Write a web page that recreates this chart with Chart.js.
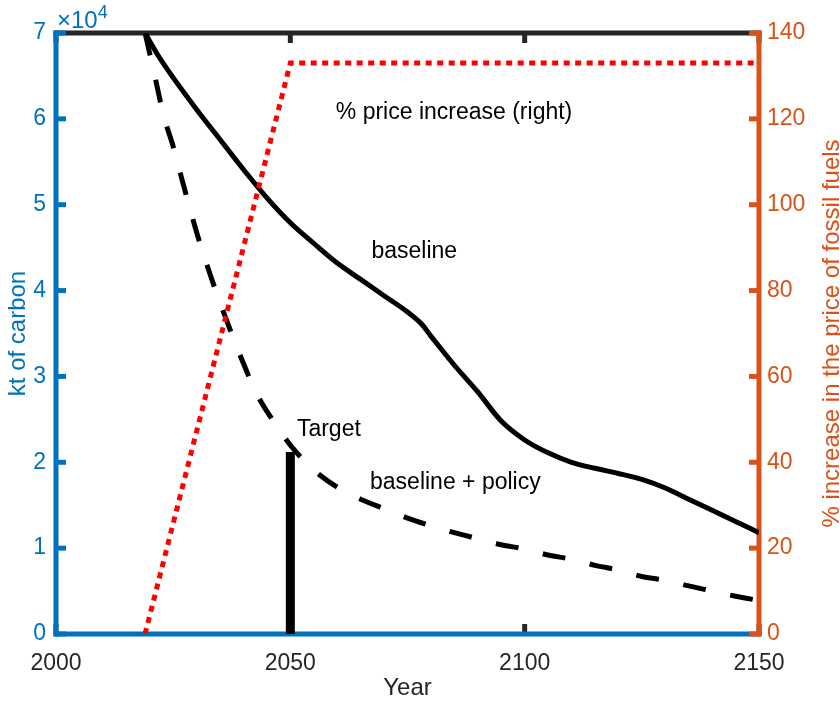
<!DOCTYPE html>
<html>
<head>
<meta charset="utf-8">
<script src="https://cdn.jsdelivr.net/npm/chart.js@4"></script>
<style>
  html, body { margin: 0; padding: 0; background: #fff; }
</style>
</head>
<body>
<canvas id="chart" width="840" height="701"></canvas>
<script>
const BLUE = '#0072BD', ORANGE = '#D95319', INK = '#262626';
const FONT = "'Liberation Sans', Arial, Helvetica, sans-serif";

// carbon emissions, kt
const baseYears = [2019, 2022, 2025, 2030, 2035, 2040, 2045, 2050, 2055, 2060, 2065, 2070, 2075, 2078,
  2080, 2085, 2090, 2095, 2100, 2105, 2110, 2115, 2120, 2125, 2130, 2135, 2140, 2145, 2150];
const baseline = [70000, 67200, 64800, 61100, 57600, 54100, 50800, 47900, 45500, 43200, 41300, 39400, 37500, 36100,
  34700, 31300, 28200, 24800, 22600, 21100, 20000, 19300, 18700, 18000, 17000, 15700, 14400, 13100, 11800];

const policyYears = [2019, 2021, 2023, 2025, 2027, 2030, 2033, 2036, 2040, 2043, 2046, 2050, 2055, 2060,
  2065, 2070, 2075, 2080, 2085, 2090, 2095, 2100, 2105, 2110, 2115, 2120, 2125, 2130, 2135, 2140, 2145, 2150];
const policy = [70000, 65200, 60300, 56800, 52700, 46800, 41700, 37100, 31500, 27800, 25100, 22000, 19100, 17100,
  15700, 14600, 13500, 12600, 11800, 11100, 10400, 9900, 9200, 8700, 8000, 7450, 6700, 6250, 5600, 5000, 4400, 3900];

// fossil fuel price increase, %
const priceYears = [2019, 2050, 2150];
const priceRise = [0, 133, 133];

// 2050 target
const targetYears = [2050, 2050];
const target = [0, 21200];

const xTicks = [2000, 2050, 2100, 2150];
const leftTicks = [0, 10000, 20000, 30000, 40000, 50000, 60000, 70000];
const rightTicks = [0, 20, 40, 60, 80, 100, 120, 140];

const notes = [
  { text: '% price increase (right)', x: 2059.7, y: 60000 },
  { text: 'baseline', x: 2067.3, y: 43800 },
  { text: 'Target', x: 2051.4, y: 23060 },
  { text: 'baseline + policy', x: 2067.0, y: 16900 }
];

const pts = (xs, ys) => xs.map((x, i) => ({ x: x, y: ys[i] }));
const setTicks = list => scale => { scale.ticks = list.map(v => ({ value: v })); };

// axis box with inward ticks, drawn under the data
const frame = {
  id: 'frame',
  beforeDatasetsDraw(chart) {
    const { ctx, chartArea: a, scales } = chart;
    const tl = 10;
    const seg = (x1, y1, x2, y2, color, cap) => {
      ctx.strokeStyle = color;
      ctx.lineCap = cap;
      ctx.beginPath();
      ctx.moveTo(x1, y1);
      ctx.lineTo(x2, y2);
      ctx.stroke();
    };
    ctx.save();
    ctx.lineWidth = 5;
    scales.x.ticks.forEach(t => {
      const x = scales.x.getPixelForValue(t.value);
      seg(x, a.top, x, a.top + tl, INK, 'butt');
      seg(x, a.bottom, x, a.bottom - tl, INK, 'butt');
    });
    seg(a.left, a.top, a.right, a.top, INK, 'square');
    seg(a.left, a.bottom, a.right, a.bottom, BLUE, 'square');
    scales.y.ticks.forEach(t => {
      const y = scales.y.getPixelForValue(t.value);
      seg(a.left, y, a.left + tl, y, BLUE, 'butt');
    });
    seg(a.left, a.top, a.left, a.bottom, BLUE, 'square');
    scales.y1.ticks.forEach(t => {
      const y = scales.y1.getPixelForValue(t.value);
      seg(a.right, y, a.right - tl, y, ORANGE, 'butt');
    });
    seg(a.right, a.top, a.right, a.bottom, ORANGE, 'square');
    ctx.restore();
  }
};

// text notes, axis titles and the x10^4 multiplier
const labels = {
  id: 'labels',
  afterDatasetsDraw(chart) {
    const { ctx, chartArea: a, scales } = chart;
    ctx.save();
    ctx.font = '23px ' + FONT;
    ctx.fillStyle = '#000';
    ctx.textAlign = 'left';
    ctx.textBaseline = 'alphabetic';
    notes.forEach(n => {
      ctx.fillText(n.text, scales.x.getPixelForValue(n.x), scales.y.getPixelForValue(n.y));
    });

    ctx.fillStyle = BLUE;
    ctx.font = '24px ' + FONT;
    ctx.fillText('\u00d710', a.left + 1, a.top - 5);
    const w = ctx.measureText('\u00d710').width;
    ctx.font = '18px ' + FONT;
    ctx.fillText('4', a.left + 1 + w, a.top - 15.5);

    ctx.font = '24px ' + FONT;
    ctx.textAlign = 'center';
    ctx.fillStyle = INK;
    ctx.fillText('Year', (a.left + a.right) / 2, 695);

    const mid = (a.top + a.bottom) / 2;
    ctx.save();
    ctx.translate(25, mid);
    ctx.rotate(-Math.PI / 2);
    ctx.fillStyle = BLUE;
    ctx.fillText('kt of carbon', 0, 0);
    ctx.restore();

    ctx.save();
    ctx.translate(839, mid);
    ctx.rotate(-Math.PI / 2);
    ctx.fillStyle = ORANGE;
    ctx.fillText('% increase in the price of fossil fuels', 0, 0);
    ctx.restore();
    ctx.restore();
  }
};

const tickFont = { family: FONT, size: 23 };

new Chart(document.getElementById('chart'), {
  type: 'line',
  data: {
    datasets: [
      {
        label: 'price increase', data: pts(priceYears, priceRise), yAxisID: 'y1',
        borderColor: '#FF0000', borderWidth: 5, borderDash: [6, 5.5]
      },
      {
        label: 'target', data: pts(targetYears, target), yAxisID: 'y',
        borderColor: '#000000', borderWidth: 9
      },
      {
        label: 'baseline', data: pts(baseYears, baseline), yAxisID: 'y',
        borderColor: '#000000', borderWidth: 5, cubicInterpolationMode: 'monotone'
      },
      {
        label: 'baseline + policy', data: pts(policyYears, policy), yAxisID: 'y',
        borderColor: '#000000', borderWidth: 5, borderDash: [23, 25], cubicInterpolationMode: 'monotone'
      }
    ]
  },
  options: {
    responsive: false,
    animation: false,
    layout: { padding: { top: 33, left: 0, right: 0, bottom: 0 } },
    elements: {
      point: { radius: 0, hoverRadius: 0 },
      line: { fill: false, borderCapStyle: 'butt' }
    },
    plugins: {
      legend: { display: false },
      tooltip: { enabled: false }
    },
    scales: {
      x: {
        type: 'linear', min: 2000, max: 2150,
        afterBuildTicks: setTicks(xTicks),
        afterFit: s => { s.height = 67; },
        grid: { display: false, drawTicks: false },
        border: { display: false },
        ticks: { color: INK, font: tickFont, padding: 16, maxRotation: 0, autoSkip: false, callback: v => String(v) }
      },
      y: {
        position: 'left', min: 0, max: 70000,
        afterBuildTicks: setTicks(leftTicks),
        afterFit: s => { s.width = 56; },
        grid: { display: false, drawTicks: false },
        border: { display: false },
        ticks: { color: BLUE, font: tickFont, padding: 10, autoSkip: false, callback: v => String(v / 10000) }
      },
      y1: {
        position: 'right', min: 0, max: 140,
        afterBuildTicks: setTicks(rightTicks),
        afterFit: s => { s.width = 81; },
        grid: { display: false, drawTicks: false },
        border: { display: false },
        ticks: { color: ORANGE, font: tickFont, padding: 8, autoSkip: false, callback: v => String(v) }
      }
    }
  },
  plugins: [frame, labels]
});
</script>
</body>
</html>
